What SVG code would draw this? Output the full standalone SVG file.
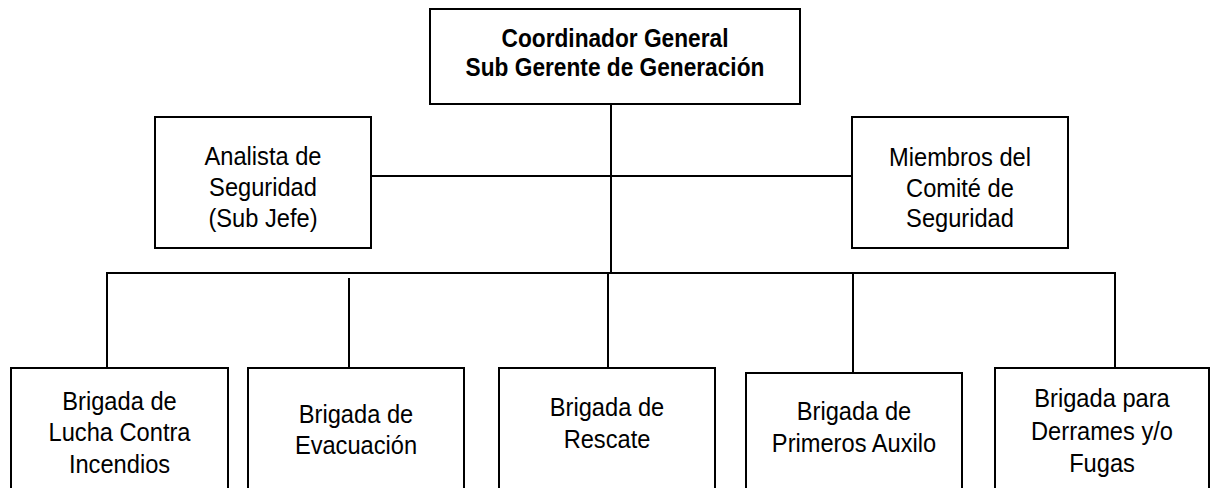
<svg xmlns="http://www.w3.org/2000/svg" width="1210" height="488" viewBox="0 0 1210 488">
<style>
.box{fill:#fff;stroke:#000;stroke-width:2}
.t{font-family:"Liberation Sans",Arial,sans-serif;font-size:26px;text-anchor:middle;fill:#000}
.b{font-family:"Liberation Sans",Arial,sans-serif;font-size:25.5px;font-weight:bold;text-anchor:middle;fill:#000}
.c{stroke:#000;stroke-width:2;fill:none}
</style>
<rect width="1210" height="488" fill="#fff"/>
<g id="connectors">
<line class="c" x1="611" y1="104" x2="611" y2="273"/>
<line class="c" x1="371" y1="176" x2="852" y2="176"/>
<line class="c" x1="106" y1="273" x2="1116" y2="273"/>
<line class="c" x1="107" y1="273" x2="107" y2="368"/>
<line class="c" x1="349" y1="278" x2="349" y2="368"/>
<line class="c" x1="608" y1="273" x2="608" y2="368"/>
<line class="c" x1="853" y1="273" x2="853" y2="373"/>
<line class="c" x1="1115" y1="273" x2="1115" y2="368"/>
</g>
<g id="coordinador">
<rect class="box" x="430" y="9" width="370" height="95"/>
<g transform="translate(615,0) scale(0.89,1)">
<text class="b" x="0" y="47">Coordinador General</text>
<text class="b" x="0" y="76">Sub Gerente de Generación</text>
</g>
</g>
<g id="analista">
<rect class="box" x="155" y="117" width="216" height="131"/>
<g transform="translate(263,0) scale(0.91,1)">
<text class="t" x="0" y="165">Analista de</text>
<text class="t" x="0" y="196">Seguridad</text>
<text class="t" x="0" y="227">(Sub Jefe)</text>
</g>
</g>
<g id="miembros">
<rect class="box" x="852" y="117" width="216" height="131"/>
<g transform="translate(960,0) scale(0.91,1)">
<text class="t" x="0" y="166">Miembros del</text>
<text class="t" x="0" y="197">Comité de</text>
<text class="t" x="0" y="227">Seguridad</text>
</g>
</g>
<g id="incendios">
<rect class="box" x="11" y="368" width="217" height="130"/>
<g transform="translate(119.5,0) scale(0.91,1)">
<text class="t" x="0" y="410">Brigada de</text>
<text class="t" x="0" y="441">Lucha Contra</text>
<text class="t" x="0" y="473">Incendios</text>
</g>
</g>
<g id="evacuacion">
<rect class="box" x="248" y="368" width="216" height="130"/>
<g transform="translate(356,0) scale(0.91,1)">
<text class="t" x="0" y="423">Brigada de</text>
<text class="t" x="0" y="454">Evacuación</text>
</g>
</g>
<g id="rescate">
<rect class="box" x="499" y="368" width="216" height="130"/>
<g transform="translate(607,0) scale(0.91,1)">
<text class="t" x="0" y="416">Brigada de</text>
<text class="t" x="0" y="448">Rescate</text>
</g>
</g>
<g id="primeros">
<rect class="box" x="746" y="373" width="216" height="130"/>
<g transform="translate(854,0) scale(0.91,1)">
<text class="t" x="0" y="420">Brigada de</text>
<text class="t" x="0" y="452">Primeros Auxilo</text>
</g>
</g>
<g id="fugas">
<rect class="box" x="995" y="368" width="214" height="130"/>
<g transform="translate(1102,0) scale(0.91,1)">
<text class="t" x="0" y="407">Brigada para</text>
<text class="t" x="0" y="440">Derrames y/o</text>
<text class="t" x="0" y="472">Fugas</text>
</g>
</g>
</svg>
